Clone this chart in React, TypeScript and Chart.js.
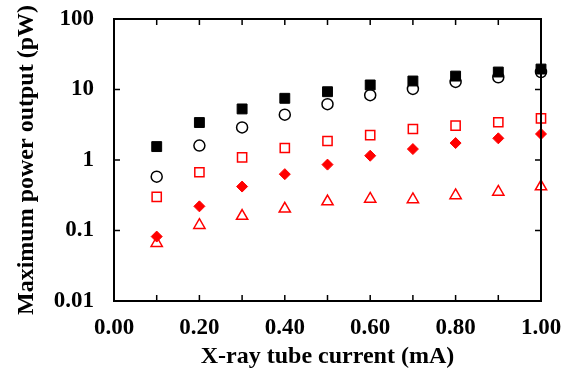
import React, { useEffect, useRef } from "react";
import { Chart, registerables } from "chart.js";

const xValues = [0.1, 0.2, 0.3, 0.4, 0.5, 0.6, 0.7, 0.8, 0.9, 1.0];
const blackSquares = [1.55, 3.4, 5.3, 7.5, 9.3, 11.6, 13.2, 15.5, 17.7, 19.5];
const openCircles = [0.58, 1.6, 2.9, 4.4, 6.2, 8.3, 10.2, 12.8, 14.9, 17.7];
const redSquares = [0.3, 0.67, 1.09, 1.48, 1.86, 2.26, 2.75, 3.07, 3.43, 3.9];
const redDiamonds = [0.082, 0.22, 0.42, 0.63, 0.86, 1.15, 1.43, 1.74, 2.03, 2.34];
const redTriangles = [0.066, 0.119, 0.16, 0.203, 0.257, 0.28, 0.276, 0.314, 0.352, 0.42];
const yTicks = [0.01, 0.1, 1, 10, 100];
const xMinorTicks = [0.1, 0.2, 0.3, 0.4, 0.5, 0.6, 0.7, 0.8, 0.9];

const FONT = "'Liberation Serif', 'Times New Roman', serif";

const boxTicksPlugin = {
  id: "boxTicks",
  afterDraw(chart: any) {
    const ctx = chart.ctx;
    const a = chart.chartArea;
    const xs = chart.scales["x"];
    const ys = chart.scales["y"];
    const tl = 6;
    ctx.save();
    ctx.strokeStyle = "#000000";
    ctx.lineWidth = 2;
    ctx.strokeRect(a.left, a.top, a.right - a.left, a.bottom - a.top);
    ctx.lineWidth = 1.5;
    ctx.beginPath();
    for (const v of xMinorTicks) {
      const px = xs.getPixelForValue(v);
      ctx.moveTo(px, a.bottom);
      ctx.lineTo(px, a.bottom - tl);
      ctx.moveTo(px, a.top);
      ctx.lineTo(px, a.top + tl);
    }
    for (const v of yTicks) {
      const py = ys.getPixelForValue(v);
      ctx.moveTo(a.left, py);
      ctx.lineTo(a.left + tl, py);
      ctx.moveTo(a.right, py);
      ctx.lineTo(a.right - tl, py);
    }
    ctx.stroke();
    ctx.restore();
  },
};

Chart.register(...registerables);

function toPoints(vals: number[]) {
  return vals.map((v, i) => ({ x: xValues[i], y: v }));
}

export default function App() {
  const ref = useRef<HTMLCanvasElement | null>(null);
  useEffect(() => {
    if (!ref.current) return;
    const chart = new Chart(ref.current, {
      type: "scatter",
      data: {
        datasets: [
          { label: "black squares", data: toPoints(blackSquares), pointStyle: "rect", pointRadius: 7, backgroundColor: "#000", borderColor: "#000", borderWidth: 1 },
          { label: "open circles", data: toPoints(openCircles), pointStyle: "circle", pointRadius: 5.5, backgroundColor: "rgba(255,255,255,0)", borderColor: "#000", borderWidth: 1.5 },
          { label: "red diamonds", data: toPoints(redDiamonds), pointStyle: "rectRot", pointRadius: 5.5, backgroundColor: "#ff0000", borderColor: "#ff0000", borderWidth: 1 },
          { label: "red squares", data: toPoints(redSquares), pointStyle: "rect", pointRadius: 6.5, backgroundColor: "rgba(255,255,255,0)", borderColor: "#ff0000", borderWidth: 1.5 },
          { label: "red triangles", data: toPoints(redTriangles), pointStyle: "triangle", pointRadius: 6.5, backgroundColor: "rgba(255,255,255,0)", borderColor: "#ff0000", borderWidth: 1.5 },
        ],
      },
      options: {
        animation: false,
        responsive: false,
        clip: false,
        layout: { padding: { left: 0, right: 21, top: 19, bottom: 0 } },
        plugins: { legend: { display: false }, tooltip: { enabled: false } },
        scales: {
          x: {
            type: "linear",
            min: 0,
            max: 1,
            grid: { display: false, drawTicks: false },
            border: { display: false },
            ticks: {
              stepSize: 0.2,
              padding: 13,
              color: "#000",
              font: { family: FONT, size: 23, weight: "bold" },
              callback: (v: any) => Number(v).toFixed(2),
              maxRotation: 0,
            },
            title: {
              display: true,
              text: "X-ray tube current (mA)",
              color: "#000",
              font: { family: FONT, size: 24, weight: "bold" },
              padding: { top: 0, bottom: 3 },
            },
            afterFit: (s: any) => {
              s.height = 73;
              s.paddingLeft = 0;
              s.paddingRight = 0;
            },
          },
          y: {
            type: "logarithmic",
            min: 0.01,
            max: 100,
            grid: { display: false, drawTicks: false },
            border: { display: false },
            afterBuildTicks: (s: any) => {
              s.ticks = yTicks.map((v) => ({ value: v }));
            },
            ticks: {
              padding: 20,
              color: "#000",
              font: { family: FONT, size: 23, weight: "bold" },
              callback: (v: any) => String(v),
            },
            title: {
              display: true,
              text: "Maximum power output (pW)",
              color: "#000",
              font: { family: FONT, size: 24, weight: "bold" },
              padding: { top: 12, bottom: 0 },
            },
            afterFit: (s: any) => {
              s.width = 114;
              s.paddingTop = 0;
              s.paddingBottom = 0;
            },
          },
        },
      },
      plugins: [boxTicksPlugin],
    } as any);
    return () => chart.destroy();
  }, []);
  return (
    <div style={{ position: "absolute", left: 0, top: 0, width: 562, height: 374, background: "#fff" }}>
      <canvas ref={ref} width={562} height={374} style={{ display: "block" }} />
    </div>
  );
}
